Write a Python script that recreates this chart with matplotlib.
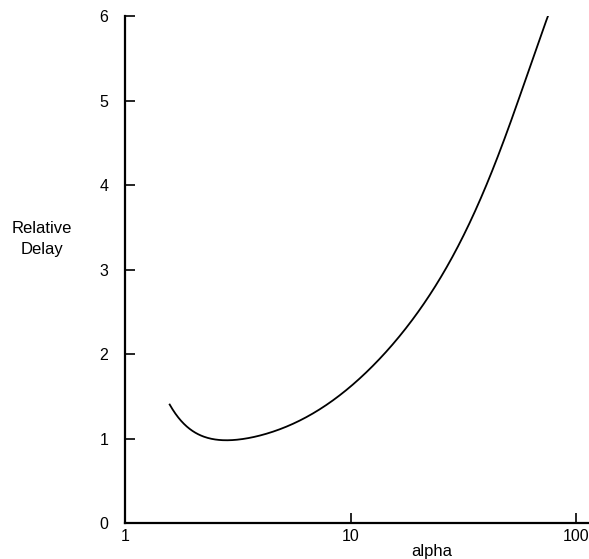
import numpy as np
import matplotlib.pyplot as plt

# values
alpha = [1.58, 1.75, 2.0, 2.46, 3.24, 4.26, 5.56, 7.1, 9.0, 11.0, 13.5, 16.6, 20.3, 24.0,
         29.7, 34.9, 40.3, 44.7, 51.0, 57.6, 75.1]
delay = [1.41, 1.22, 1.08, 1.0, 1.0, 1.06, 1.16, 1.31, 1.53, 1.73, 1.96, 2.2, 2.52, 2.83,
         3.23, 3.67, 4.02, 4.33, 4.73, 5.12, 6.01]

plt.rcParams['font.family'] = ['Liberation Sans', 'DejaVu Sans']

fig = plt.figure(figsize=(5.89, 5.59), dpi=100)
ax = fig.add_axes([0.212, 0.0644, 0.788, 0.9066])

# least-squares smooth of the read-off points in log-x space
lx = np.log10(alpha)
coef = np.polyfit(lx, delay, 7)
xs = np.linspace(lx[0], lx[-1], 400)
ax.plot(10 ** xs, np.polyval(coef, xs), color='black', lw=1.3)

ax.set_xscale('log')
ax.set_xlim(1, 114)
ax.set_ylim(0, 6)
ax.set_xticks([1, 10, 100])
ax.set_xticklabels(['1', '10', '100'])
ax.minorticks_off()
ax.set_yticks(range(7))

for s in ['top', 'right']:
    ax.spines[s].set_visible(False)
for s in ['left', 'bottom']:
    ax.spines[s].set_linewidth(1.6)

ax.tick_params(axis='both', direction='in', length=7, width=1.2, labelsize=11.5)
ax.tick_params(axis='y', pad=12)
ax.tick_params(axis='x', pad=4)

fig.text(0.071, 0.573, 'Relative\nDelay', ha='center', va='center', fontsize=12, linespacing=1.5)
fig.text(0.733, 0.014, 'alpha', ha='center', va='center', fontsize=12)

plt.savefig('out.png')
